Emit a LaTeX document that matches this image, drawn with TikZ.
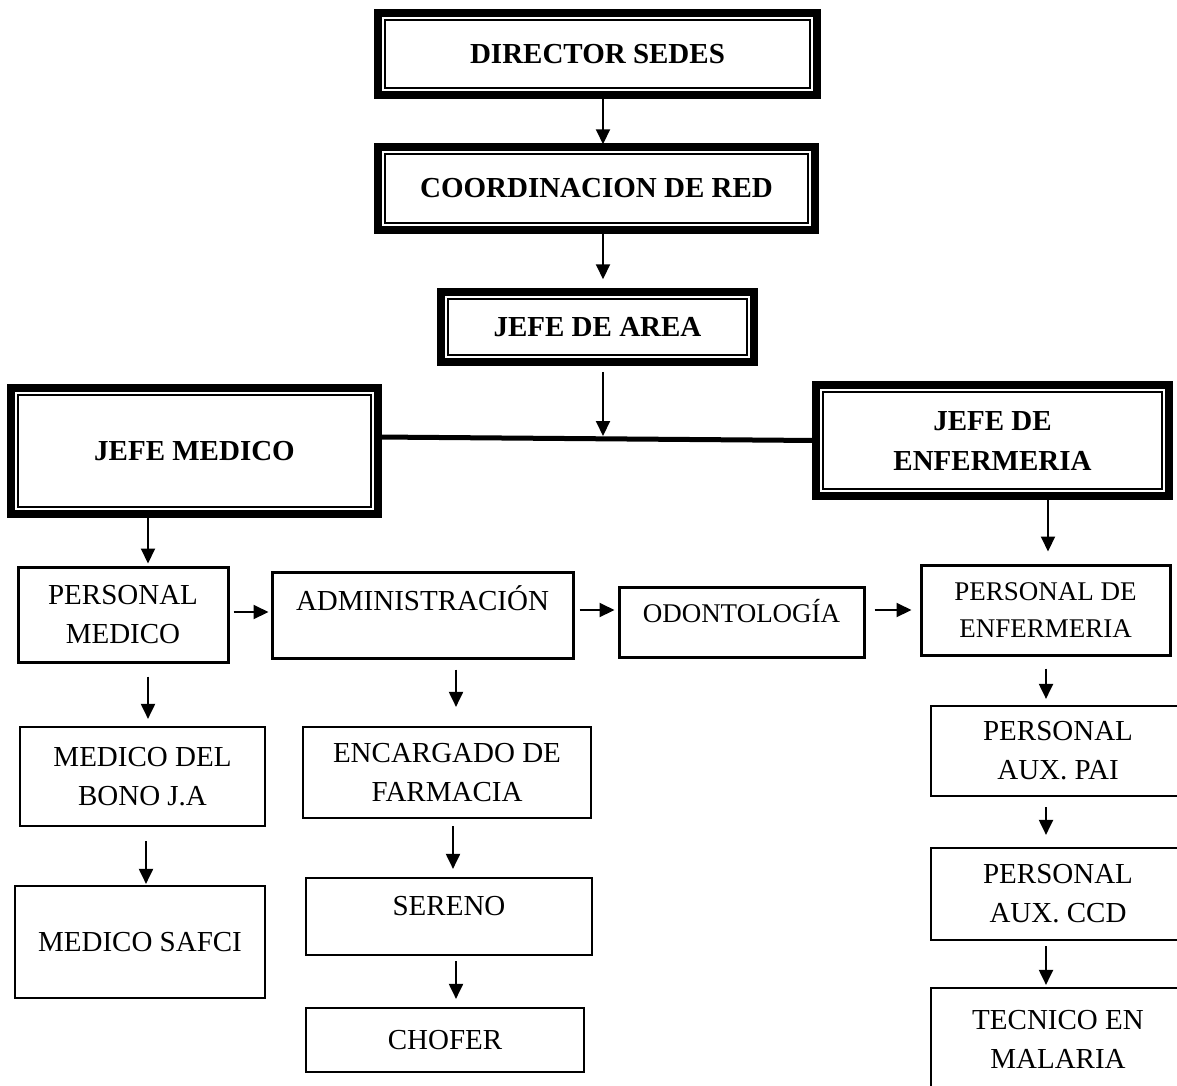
\documentclass[tikz,border=0pt]{standalone}
\usepackage{fontspec}
\setmainfont{Liberation Serif}
\usetikzlibrary{arrows.meta,calc}
\begin{document}
\begin{tikzpicture}[x=1pt,y=-1pt,
  box/.style={draw, line width=3pt, inner sep=0pt, align=center, font=\fontsize{29}{39}\selectfont},
  lbox/.style={box, line width=2.2pt},
  sbox/.style={box, font=\fontsize{27}{37}\selectfont},
  hbox/.style={draw, line width=1.5pt, inner sep=0pt, align=center, font=\fontsize{29}{40}\selectfont\bfseries},
  band/.style={line width=8pt},
  arr/.style={line width=2pt, -{Triangle[width=14pt,length=15pt]}},
  link/.style={line width=5pt}]
\clip (0,0) rectangle (1177,1085);
\useasboundingbox (0,0) rectangle (1177,1085);
\fill[white] (0,0) rectangle (1177,1085);

% top hierarchy
\node[hbox, minimum width=425, minimum height=68] (dir) at (597.5,54) {DIRECTOR SEDES};
\draw[band] ([shift={(-6.5pt,6.5pt)}]dir.north west) rectangle ([shift={(6.5pt,-6.5pt)}]dir.south east);
\node[hbox, minimum width=423, minimum height=69] (coord) at (596.5,188.5) {COORDINACION DE RED};
\draw[band] ([shift={(-6.5pt,6.5pt)}]coord.north west) rectangle ([shift={(6.5pt,-6.5pt)}]coord.south east);
\node[hbox, minimum width=299, minimum height=56] (area) at (597.5,327) {JEFE DE AREA};
\draw[band] ([shift={(-6.5pt,6.5pt)}]area.north west) rectangle ([shift={(6.5pt,-6.5pt)}]area.south east);
\node[hbox, minimum width=353, minimum height=112] (jm) at (194.5,451) {JEFE MEDICO};
\draw[band] ([shift={(-6.5pt,6.5pt)}]jm.north west) rectangle ([shift={(6.5pt,-6.5pt)}]jm.south east);
\node[hbox, minimum width=339, minimum height=97] (je) at (992.5,440.5) {JEFE DE\\ENFERMERIA};
\draw[band] ([shift={(-6.5pt,6.5pt)}]je.north west) rectangle ([shift={(6.5pt,-6.5pt)}]je.south east);

% second level
\node[box, minimum width=210, minimum height=95] (pm) at (123,614.5) {PERSONAL\\MEDICO};
\node[box, minimum width=301, minimum height=86, text height=38.6pt, text depth=47.4pt] (adm) at (422.5,615) {ADMINISTRACIÓN};
\node[sbox, minimum width=245, minimum height=70, text height=35pt, text depth=35pt] (odo) at (741.5,622) {ODONTOLOGÍA};
\node[sbox, minimum width=249, minimum height=90] (pe) at (1045.5,610) {PERSONAL DE\\ENFERMERIA};

% left column
\node[lbox, minimum width=245, minimum height=99] (bono) at (142.5,776.5) {MEDICO DEL\\BONO J.A};
\node[lbox, minimum width=250, minimum height=112] (safci) at (140,942) {MEDICO SAFCI};

% middle column
\node[lbox, minimum width=288, minimum height=91] (farm) at (447,772.5) {ENCARGADO DE\\FARMACIA};
\node[lbox, minimum width=286, minimum height=77, text height=37.6pt, text depth=39.4pt] (ser) at (449,916.5) {SERENO};
\node[lbox, minimum width=278, minimum height=64] (cho) at (445,1040) {CHOFER};

% right column
\node[lbox, minimum width=254, minimum height=90] (pai) at (1058,751) {PERSONAL\\AUX. PAI};
\node[lbox, minimum width=254, minimum height=92] (ccd) at (1058,894) {PERSONAL\\AUX. CCD};
\node[lbox, minimum width=254, minimum height=102] (tec) at (1058,1039) {TECNICO EN\\MALARIA};

% connectors top
\draw[arr] ([yshift=-10pt]dir.south -| 603,0) -- ([yshift=9pt]coord.north -| 603,0);
\draw[arr] ([yshift=-10pt]coord.south -| 603,0) -- ([yshift=19pt]area.north -| 603,0);
\draw[link] ([xshift=6pt,yshift=14pt]jm.east) -- ([xshift=-6pt]je.west);
\coordinate (junc) at (603,436);
\draw[arr] ([yshift=-16pt]area.south -| junc) -- (junc);

% from chiefs
\draw[arr] ([yshift=-10pt]jm.south -| 148,0) -- ([yshift=2pt]pm.north -| 148,0);
\draw[arr] ([yshift=-10pt]je.south -| 1048,0) -- ([yshift=12pt]pe.north -| 1048,0);

% horizontal row
\draw[arr] ([xshift=4pt]pm.east |- 0,612) -- ([xshift=-2pt]adm.west |- 0,612);
\draw[arr] ([xshift=5pt]adm.east |- 0,610) -- ([xshift=-3pt]odo.west |- 0,610);
\draw[arr] ([xshift=9pt]odo.east |- 0,610) -- ([xshift=-8pt]pe.west |- 0,610);

% left column arrows
\draw[arr] ([yshift=-13pt]pm.south -| 148,0) -- ([yshift=7pt]bono.north -| 148,0);
\draw[arr] ([yshift=-14pt]bono.south -| 146,0) -- ([yshift=1pt]safci.north -| 146,0);

% middle column arrows
\draw[arr] ([yshift=-10pt]adm.south -| 456,0) -- ([yshift=19pt]farm.north -| 456,0);
\draw[arr] ([yshift=-7pt]farm.south -| 453,0) -- ([yshift=8pt]ser.north -| 453,0);
\draw[arr] ([yshift=-5pt]ser.south -| 456,0) -- ([yshift=8pt]cho.north -| 456,0);

% right column arrows
\draw[arr] ([yshift=-12pt]pe.south -| 1046,0) -- ([yshift=6pt]pai.north -| 1046,0);
\draw[arr] ([yshift=-10pt]pai.south -| 1046,0) -- ([yshift=12pt]ccd.north -| 1046,0);
\draw[arr] ([yshift=-5pt]ccd.south -| 1046,0) -- ([yshift=2pt]tec.north -| 1046,0);
\end{tikzpicture}
\end{document}
